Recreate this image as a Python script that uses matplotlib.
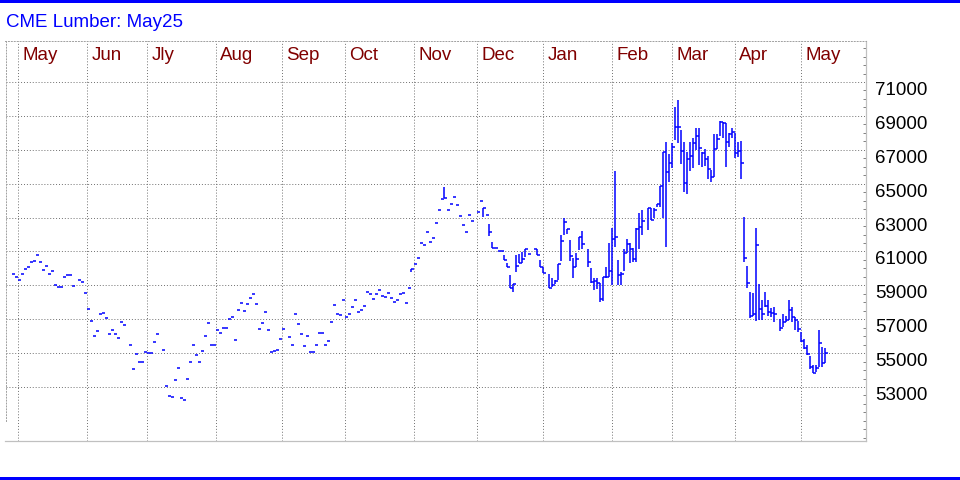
import matplotlib
matplotlib.use('Agg')
import numpy as np
import pandas as pd
import matplotlib.pyplot as plt
from matplotlib.patches import Rectangle
from matplotlib.ticker import MultipleLocator

plt.rcParams['font.family'] = ['Liberation Sans', 'DejaVu Sans']

# one slot per weekday, holidays left empty (None)
days = pd.bdate_range('2024-04-29', '2025-05-13')
month_names = ['May', 'Jun', 'Jly', 'Aug', 'Sep', 'Oct', 'Nov',
               'Dec', 'Jan', 'Feb', 'Mar', 'Apr', 'May']

close = [
    59650, 59470, 59300, 59650, 59940, 60060, 60360, 60420, 60770, 60360,
    59890, 60120, 59650, 59830, 59000, 58880, 58880, 59470, 59590, 59590,
    58940, None, 59300, 59180, 58530, 57580, 56880, 55990, 56290, 57290,
    57350, 57050, 56110, 56350, 56110, 55870, 56820, 56640, None, 55460,
    54040, 54930, 54460, 54460, 55090, 54990, 54990, 55640, 56110, None,
    55160, 53040, 52450, 52390, 53390, 54100, 52330, 52210, 53450, 54460,
    55460, 54870, 54460, 55100, 55990, 56760, 55460, 55460, 56340, 56170,
    56460, 56460, 56990, 57110, 55750, 57530, 57940, 57470, 57880, 58230,
    58470, 57880, 56400, 56760, 57410, 56340, 55050, 55100, 55160, 55810,
    56400, None, 55930, 55460, 57290, 56700, 56110, 55400, 55990, 55050,
    55050, 55460, 56170, 56170, 55460, 55700, 56820, 57820, 57290, 57230,
    58120, 57130, 57290, 57700, 58120, 57410, 57530, 57760, 58590, 58470,
    58180, 58470, 58710, 58350, 58290, 58530, 58230, 58000, 58120, 58470,
    58530, 57940, 58820, 59950, 60280, 60600, 61480, 61360, 62130, 61540,
    61780, 62660, 63430, 64080, 64140, 63430, 63780, 64190, 63720, 63070,
    62540, 62130, 63130, 62780, None, 63310, 63960, 63550, 63150, 62160,
    61200, 61200, 61030, 61030, 60480, 60060, 58860, 59060, 60140, 60340,
    60570, 61150, 60850, None, 61140, 60790, 60060, 59750, None, 58820,
    59000, 59240, 60240, 61640, 62720, 62310, 60730, 60060, 60580, 61830,
    61420, None, 60360, 59180, 59280, 59160, 58190, 59510, 59510, 59850,
    61720, 61870, 59610, 59670, 60890, 61440, 61130, 60540, 62330, 62420,
    62800, None, 63550, 62860, 63450, 63780, 64860, 66850, 65710, 66200,
    67150, 68330, 68330, 66930, 65020, 66440, 66630, 67380, 67810, 67090,
    66790, 66460, 65850, 65410, 67030, 67620, 68660, 68560, 67440, 67910,
    68030, 66830, 66930, 66200, 60600, 59120, 57190, 57290, 61360, 57590,
    57310, 57780, 57450, 57350, 57310, None, 56460, 56860, 56960, 57550,
    57150, 56960, 56410, 55740, 55280, 54950, 54200, 53850, 54140, 55580,
    54400, 54990,
]

# no traded range before slot 133: only a settlement tick
high = [None] * 133 + [
    59950, None, None, None, None, None, None, None, None, None,
    None, 64820, None, None, None, None, None, None, None, None,
    None, None, None, None, 63550, None, 62620, 61580, None, None,
    None, 60770, 60300, 59610, 59060, 60790, 60870, 60970, 61150, None,
    None, None, 61140, 60500, 60060, None, 59670, 59410, 59300, 60240,
    61950, 62960, 62310, 61680, 60590, 60890, 61830, 62210, None, 61150,
    60000, 59450, 59450, 59160, 59510, 60100, 61480, 62370, 65750, 60500,
    59810, 61130, 61720, 61480, 61180, 62370, 63250, 63450, None, 63550,
    63550, 63550, 63780, 64860, 66850, 67440, 66730, 67380, 69550, 69940,
    68170, 67480, 66890, 67480, 67680, 68270, 68270, 66890, 67030, 66650,
    65810, 67910, 67930, 68720, 68660, 68560, 67970, 68270, 67970, 67480,
    67540, 63010, 60140, 58610, 58570, 62400, 59060, 58140, 58610, 58140,
    57640, 57740, None, 57020, 57290, 57190, 58140, 57700, 57150, 56900,
    56230, 55840, 55480, 54850, 54300, 54300, 56370, 55380, 55280,
]

low = [None] * 133 + [
    59800, None, None, None, None, None, None, None, None, None,
    None, 64140, None, None, None, None, None, None, None, None,
    None, None, None, None, 63050, None, 61930, 61200, None, None,
    None, 60480, 60060, 58860, 58590, 59810, 60300, 60340, 60690, None,
    None, None, 60790, 60060, 59750, None, 58820, 58920, 59080, 59320,
    60460, 61990, 62010, 60460, 59450, 60100, 61090, 61170, None, 60100,
    59120, 58730, 58780, 58040, 58080, 59450, 59510, 59020, 61280, 59020,
    59020, 59870, 60890, 60340, 60400, 60360, 61150, 61970, None, 62270,
    62860, 62960, 63640, 63640, 62990, 61280, 65120, 65910, 67580, 67420,
    66160, 64530, 64390, 65770, 65910, 66990, 66100, 65970, 66040, 65280,
    65120, 65370, 67030, 67810, 67720, 66000, 67150, 67680, 66500, 66590,
    65280, 60360, 58860, 57090, 57210, 56920, 56960, 56960, 57700, 57210,
    57150, 56820, None, 56330, 56520, 56820, 56960, 56820, 56370, 56230,
    55680, 55230, 54890, 54050, 53810, 53910, 54200, 54160, 54440,
]

W, H = 960, 480
fig = plt.figure(figsize=(W / 100, H / 100), dpi=100)
ax = fig.add_axes([5.5 / W, (H - 440.5) / H, 860 / W, 400 / H])

# blue rules at the top and bottom of the picture
fig.add_artist(Rectangle((0, 1 - 3 / H), 1, 3 / H, transform=fig.transFigure,
                         color='#0000ff', lw=0))
fig.add_artist(Rectangle((0, 0), 1, 3 / H, transform=fig.transFigure,
                         color='#0000ff', lw=0))

fig.text(6 / W, 1 - 27 / H, 'CME Lumber: May25', color='#0000ff',
         fontsize=13.5, va='baseline', ha='left')

# bars: high-low line plus a close tick on the right
xs, his, los, cx, cy = [], [], [], [], []
for i, c in enumerate(close):
    if c is None:
        continue
    cx.append(i)
    cy.append(c)
    if high[i] is not None:
        xs.append(i)
        his.append(high[i])
        los.append(low[i])
ax.vlines(xs, los, his, color='#0000ff', lw=1.1, zorder=3)
ax.hlines(cy, np.array(cx), np.array(cx) + 0.95, color='#0000ff', lw=1.1,
          zorder=3)

ax.set_xlim(-2.17, 284.5)
ax.set_ylim(49843, 73449)

# month grid and labels
month_idx = [i for i in range(1, len(days)) if days[i].month != days[i - 1].month]
ax.set_xticks(month_idx)
ax.set_xticklabels([])
ax.tick_params(axis='x', length=0)
for m, name in zip(month_idx, month_names):
    ax.text(m + 1.45, 0.951, name, transform=ax.get_xaxis_transform(),
            color='#800000', fontsize=13.5, ha='left', va='baseline')

ax.yaxis.tick_right()
ax.set_yticks(np.arange(53000, 71001, 2000))
ax.set_yticklabels([str(v) for v in range(53000, 71001, 2000)])
ax.yaxis.set_minor_locator(MultipleLocator(500))
ax.tick_params(axis='y', which='major', length=0, pad=6.8, labelsize=13.5,
               labelcolor='black')
ax.tick_params(axis='y', which='minor', direction='in', length=2.2,
               color='#808080', width=0.7)
for lab in ax.get_yticklabels():
    lab.set_va('top')

ax.grid(True, color='#707070', lw=0.7, linestyle=(0, (1, 2)))

for s in ['top', 'left']:
    ax.spines[s].set_linestyle((0, (1, 2)))
    ax.spines[s].set_color('#a0a0a0')
    ax.spines[s].set_linewidth(0.7)
ax.spines['left'].set_bounds(51011, 73449)
for s in ['bottom', 'right']:
    ax.spines[s].set_color('#c0c0c0')
    ax.spines[s].set_linewidth(0.9)

fig.savefig('out.png', dpi=100)
